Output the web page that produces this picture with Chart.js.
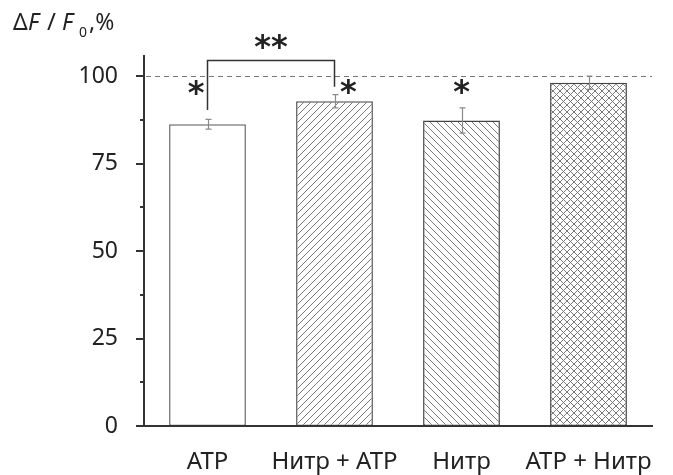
<!DOCTYPE html>
<html>
<head>
<meta charset="utf-8">
<script src="https://cdn.jsdelivr.net/npm/chart.js@4.4.1/dist/chart.umd.min.js"></script>
<style>
  html, body { margin: 0; padding: 0; background: #fff; }
  #wrap { width: 673px; height: 475px; }
</style>
</head>
<body>
<div id="wrap"><canvas id="fluoChart" width="673" height="475"></canvas></div>
<script>
"use strict";

// данные с графика
var categories = ['ATP', 'Нитр + ATP', 'Нитр', 'ATP + Нитр'];
var meanValues = [86.2, 92.8, 87.3, 98.1];
var errValues = [1.4, 1.9, 3.6, 1.9];
var yTickValues = [0, 25, 50, 75, 100];
var refLevel = 100;

// звёздочки значимости: текст, категория (дробная), уровень по оси Y
var sigLabels = ['*', '*', '*', '**'];
var sigCategory = [-0.09, 1.11, 2, 0.5];
var sigLevel = [96.6, 96.9, 96.9, 109.9];

// скобка между ATP и Нитр + ATP
var bracketFrom = 0;
var bracketTo = 1;
var bracketTop = 104.4;
var bracketLegs = [90.3, 96.9];

var FONT = '"Noto Sans", "DejaVu Sans", sans-serif';
var INK = '#222';

function makePattern(kind) {
    var p = 7;
    var c = document.createElement('canvas');
    c.width = p;
    c.height = p;
    var g = c.getContext('2d');
    g.fillStyle = '#fff';
    g.fillRect(0, 0, p, p);
    g.strokeStyle = '#7a7a7a';
    g.lineWidth = 1;
    g.beginPath();
    if (kind === 'fwd' || kind === 'cross') {
        g.moveTo(-1, p + 1); g.lineTo(p + 1, -1);
        g.moveTo(-1, 1); g.lineTo(1, -1);
        g.moveTo(p - 1, p + 1); g.lineTo(p + 1, p - 1);
    }
    if (kind === 'back' || kind === 'cross') {
        g.moveTo(-1, -1); g.lineTo(p + 1, p + 1);
        g.moveTo(p - 1, -1); g.lineTo(p + 1, 1);
        g.moveTo(-1, p - 1); g.lineTo(1, p + 1);
    }
    g.stroke();
    return g.createPattern(c, 'repeat');
}

var axisPlugin = {
    id: 'axisPlugin',
    beforeDatasetsDraw: function (chart) {
        var ctx = chart.ctx;
        var area = chart.chartArea;
        var y = chart.scales.y;
        var py = y.getPixelForValue(refLevel);
        ctx.save();
        ctx.strokeStyle = '#777';
        ctx.lineWidth = 1;
        ctx.setLineDash([5, 4]);
        ctx.beginPath();
        ctx.moveTo(area.left + 2, Math.round(py) + 0.5);
        ctx.lineTo(area.right, Math.round(py) + 0.5);
        ctx.stroke();
        ctx.restore();
    },
    afterDatasetsDraw: function (chart) {
        var ctx = chart.ctx;
        var area = chart.chartArea;
        var x = chart.scales.x;
        var y = chart.scales.y;
        ctx.save();

        // оси
        ctx.strokeStyle = '#333';
        ctx.lineWidth = 2;
        ctx.beginPath();
        ctx.moveTo(area.left, area.top);
        ctx.lineTo(area.left, area.bottom);
        ctx.moveTo(area.left - 8, area.bottom);
        ctx.lineTo(area.right + 1, area.bottom);
        ctx.stroke();

        // основные и промежуточные деления
        ctx.beginPath();
        y.ticks.forEach(function (t) {
            var py = Math.round(y.getPixelForValue(t.value));
            var len = (t.value % 25 === 0) ? 8 : 4;
            if (t.value === 0) return;
            ctx.moveTo(area.left - len, py);
            ctx.lineTo(area.left, py);
        });
        ctx.stroke();

        // планки погрешностей
        ctx.strokeStyle = '#8a8a8a';
        ctx.lineWidth = 1.2;
        ctx.beginPath();
        meanValues.forEach(function (m, i) {
            var px = Math.round(x.getPixelForValue(i)) + 0.5;
            var top = y.getPixelForValue(m + errValues[i]);
            var bot = y.getPixelForValue(m - errValues[i]);
            ctx.moveTo(px, top); ctx.lineTo(px, bot);
            ctx.moveTo(px - 3, top); ctx.lineTo(px + 3, top);
            ctx.moveTo(px - 3, bot); ctx.lineTo(px + 3, bot);
        });
        ctx.stroke();

        // скобка
        var bx0 = x.getPixelForValue(bracketFrom);
        var bx1 = x.getPixelForValue(bracketTo);
        var bt = y.getPixelForValue(bracketTop);
        ctx.strokeStyle = '#333';
        ctx.lineWidth = 1.5;
        ctx.beginPath();
        ctx.moveTo(bx0, y.getPixelForValue(bracketLegs[0]));
        ctx.lineTo(bx0, bt);
        ctx.lineTo(bx1, bt);
        ctx.lineTo(bx1, y.getPixelForValue(bracketLegs[1]));
        ctx.stroke();

        // звёздочки
        ctx.fillStyle = INK;
        ctx.font = 'bold 32px "DejaVu Sans", sans-serif';
        ctx.textAlign = 'center';
        ctx.textBaseline = 'alphabetic';
        sigLabels.forEach(function (s, i) {
            var cx = x.getPixelForValue(sigCategory[i]);
            var cy = y.getPixelForValue(sigLevel[i]);
            var m = ctx.measureText(s);
            var off = (m.actualBoundingBoxAscent - m.actualBoundingBoxDescent) / 2;
            ctx.fillText(s, cx, cy + off);
        });

        // подпись оси: ΔF/F0,%
        var parts = [
            { t: 'Δ', f: '23px ' + FONT, x: 13 },
            { t: 'F', f: 'italic 23px ' + FONT, x: 28 },
            { t: '/', f: '24px ' + FONT, x: 47 },
            { t: 'F', f: 'italic 23px ' + FONT, x: 62 },
            { t: '0', f: '14px ' + FONT, x: 79, dy: 7 },
            { t: ',%', f: '23px ' + FONT, x: 89 }
        ];
        ctx.textAlign = 'left';
        parts.forEach(function (p) {
            ctx.font = p.f;
            ctx.fillText(p.t, p.x, 30 + (p.dy || 0));
        });
        ctx.restore();
    }
};

function renderChart() {
    var canvas = document.getElementById('fluoChart');
    var ctx = canvas.getContext('2d');

    var fills = ['#ffffff', makePattern('fwd'), makePattern('back'), makePattern('cross')];
    var edges = ['#6a6a6a', '#555', '#444', '#444'];

    new Chart(ctx, {
        type: 'bar',
        data: {
            labels: categories,
            datasets: [{
                data: meanValues,
                backgroundColor: fills,
                borderColor: edges,
                borderWidth: 1.5,
                borderSkipped: false,
                barPercentage: 0.605,
                categoryPercentage: 1
            }]
        },
        options: {
            responsive: false,
            animation: false,
            devicePixelRatio: 1,
            layout: { padding: { top: 55, right: 21, left: 0, bottom: 0 } },
            plugins: {
                legend: { display: false },
                tooltip: { enabled: false }
            },
            scales: {
                x: {
                    grid: { display: false, drawTicks: false },
                    border: { display: false },
                    ticks: {
                        color: INK,
                        padding: 22,
                        font: { family: FONT, size: 24 },
                        maxRotation: 0,
                        autoSkip: false
                    },
                    afterFit: function (s) {
                        s.height = 49;
                        s.paddingLeft = 0;
                        s.paddingRight = 0;
                    }
                },
                y: {
                    min: 0,
                    max: 106,
                    grid: { display: false, drawTicks: false },
                    border: { display: false },
                    ticks: {
                        stepSize: 12.5,
                        includeBounds: false,
                        color: INK,
                        padding: 26,
                        font: { family: FONT, size: 23 },
                        callback: function (v) {
                            return yTickValues.indexOf(v) >= 0 ? String(v) : '';
                        }
                    },
                    afterFit: function (s) {
                        s.width = 144;
                        s.paddingTop = 0;
                        s.paddingBottom = 0;
                    }
                }
            }
        },
        plugins: [axisPlugin]
    });
}

renderChart();
</script>
</body>
</html>
